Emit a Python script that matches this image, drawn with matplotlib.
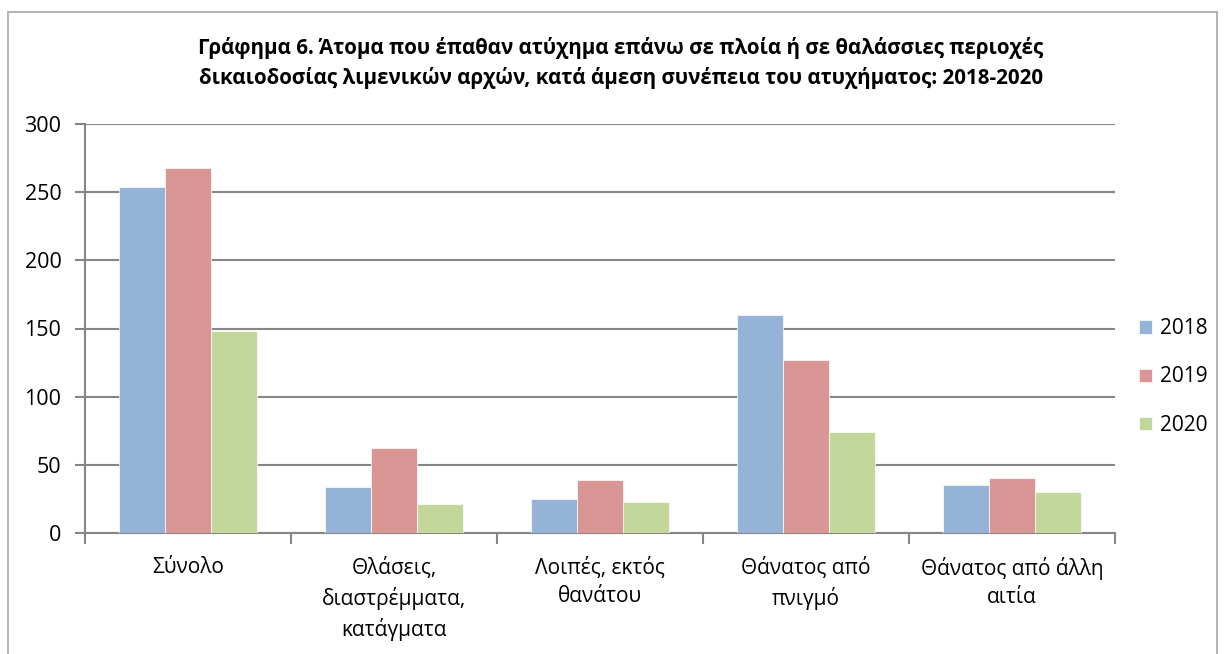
import matplotlib
matplotlib.use("Agg")
import matplotlib.pyplot as plt
import numpy as np
from matplotlib.patches import Rectangle

categories = ["Σύνολο", "Θλάσεις,\nδιαστρέμματα,\nκατάγματα", "Λοιπές, εκτός\nθανάτου",
              "Θάνατος από\nπνιγμό", "Θάνατος από άλλη\nαιτία"]
years = ["2018", "2019", "2020"]
values_2018 = [254, 34, 25, 160, 35]
values_2019 = [268, 62, 39, 127, 40]
values_2020 = [148, 21, 23, 74, 30]
colors = ["#95B3D7", "#DA9694", "#C4D79B"]
title = ("Γράφημα 6. Άτομα που έπαθαν ατύχημα επάνω σε πλοία ή σε θαλάσσιες περιοχές\n"
         "δικαιοδοσίας λιμενικών αρχών, κατά άμεση συνέπεια του ατυχήματος: 2018-2020")

plt.rcParams['font.family'] = ['Open Sans', 'DejaVu Sans']

W, H = 1225, 654
fig = plt.figure(figsize=(W/100, H/100), dpi=100)

# chart border
fig.patches.append(Rectangle((8/W, -0.05), (1217-8)/W, (H-12)/H + 0.05, transform=fig.transFigure,
                             fill=False, edgecolor="#A6A6A6", linewidth=1.2))

left, right, top, bottom = 85, 1115, 124, 533
ax = fig.add_axes([left/W, 1-bottom/H, (right-left)/W, (bottom-top)/H])

series = [values_2018, values_2019, values_2020]
n = len(categories)
x = np.arange(n)
bw = 1/4.5
for i, (vals, c, lab) in enumerate(zip(series, colors, years)):
    ax.bar(x + (i-1)*bw, vals, width=bw, color=c, edgecolor="white", linewidth=0.5, label=lab, zorder=3)

ax.set_xlim(-0.5, n-0.5)
ax.set_ylim(0, 300)
ax.set_yticks(np.arange(0, 301, 50))
ax.yaxis.grid(True, color="#868686", linewidth=1.5, zorder=0)
ax.set_axisbelow(True)
for s in ["top", "right"]:
    ax.spines[s].set_visible(False)
for s in ["left", "bottom"]:
    ax.spines[s].set_color("#868686")
    ax.spines[s].set_linewidth(1.5)
ax.tick_params(axis="y", length=7, width=1.5, color="#868686", labelsize=15.5, pad=10)
ax.set_xticks(np.arange(-0.5, n, 1.0))
ax.set_xticklabels([])
ax.tick_params(axis="x", length=8, width=1.5, color="#868686")
for i, cat in enumerate(categories):
    ax.text(i, -0.058, cat, transform=ax.get_xaxis_transform(), ha="center", va="top",
            fontsize=15, linespacing=1.45)

fig.text(621/W, 1-63/H, title, ha="center", va="center", fontsize=14.8, fontweight="bold",
         linespacing=1.45)

leg = ax.legend(loc="center left", bbox_to_anchor=(1139/W, 1-377/H), bbox_transform=fig.transFigure,
                frameon=False, fontsize=15, handlelength=0.6, handleheight=0.6, borderpad=0,
                borderaxespad=0, handletextpad=0.4, labelspacing=1.3)

fig.savefig("out.png", dpi=100)
